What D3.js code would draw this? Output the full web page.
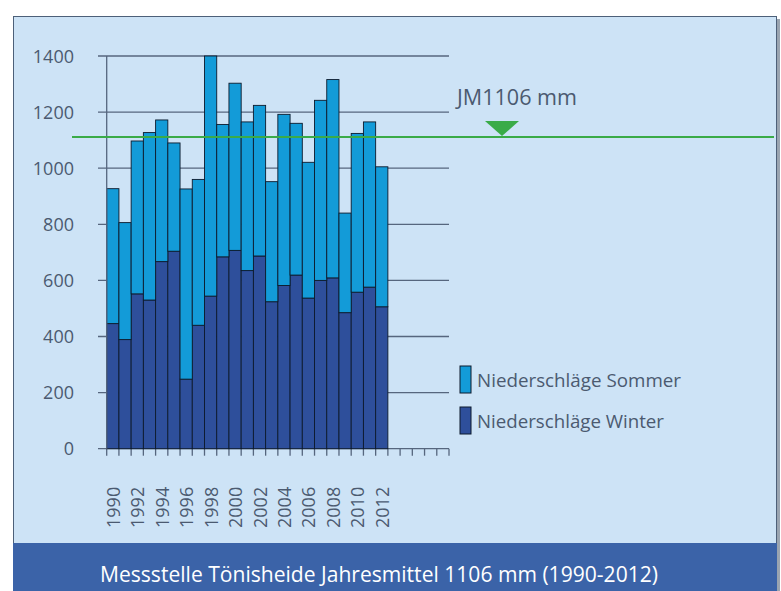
<!DOCTYPE html>
<html>
<head>
<meta charset="utf-8">
<script src="https://cdn.jsdelivr.net/npm/d3@7"></script>
<style>
  body { margin: 0; background: #fff; }
  svg text { font-family: "Open Sans", "Noto Sans", sans-serif; }
</style>
</head>
<body>
<div id="chart"></div>
<script>

var years = d3.range(1990, 2013);
var slotYears = d3.range(1990, 2018); // axis runs on past 2012 with empty slots
var winter = [446, 389, 552, 530, 667, 704, 248, 440, 544, 684, 707, 635, 687, 524, 582, 619, 537, 600, 609, 485, 558, 576, 506];
var summer = [481, 417, 545, 597, 505, 386, 678, 520, 856, 472, 596, 530, 537, 428, 610, 541, 484, 642, 707, 355, 566, 589, 499];
var yTicks = [0, 200, 400, 600, 800, 1000, 1200, 1400];
var yearLabels = d3.range(1990, 2013, 2);
var meanValue = 1106;
var seriesNames = ["Niederschläge Sommer", "Niederschläge Winter"];
var title = "Messstelle Tönisheide Jahresmittel 1106 mm (1990-2012)";

var width = 781, height = 591;
var axisColor = "#56667e", textColor = "#4b5a70";
var color = d3.scaleOrdinal()
  .domain(["winter", "summer"])
  .range(["#2e4f9b", "#139bd8"]);

var svg = d3.select("#chart").append("svg")
  .attr("width", width)
  .attr("height", height);

// panel + shadow
svg.append("rect")
  .attr("x", 16).attr("y", 19)
  .attr("width", 764).attr("height", 580)
  .attr("fill", "#9aa4b0");
svg.append("rect")
  .attr("x", 13.5).attr("y", 16.5)
  .attr("width", 763).attr("height", 580)
  .attr("fill", "#cde3f6")
  .attr("stroke", "#4d6079")
  .attr("stroke-width", 1);

var x = d3.scaleBand()
  .domain(slotYears)
  .range([106.7, 449])
  .padding(0);

var y = d3.scaleLinear()
  .domain([0, 1400])
  .range([448.7, 56]);

// gridlines
svg.append("g")
  .selectAll("line")
  .data(yTicks)
  .enter().append("line")
  .attr("x1", 98).attr("x2", 449)
  .attr("y1", d => y(d)).attr("y2", d => y(d))
  .attr("stroke", axisColor)
  .attr("stroke-width", 1.3);

// y labels
svg.append("g")
  .selectAll("text")
  .data(yTicks)
  .enter().append("text")
  .attr("x", 74)
  .attr("y", d => y(d) + 6.5)
  .attr("text-anchor", "end")
  .attr("fill", textColor)
  .style("font-size", "18px")
  .text(d => d);

// x axis ticks
var xAxis = d3.axisBottom(x)
  .tickSize(7)
  .tickFormat("");
var gx = svg.append("g")
  .attr("transform", "translate(0," + y(0) + ")")
  .call(xAxis);
gx.select(".domain").remove();
gx.selectAll(".tick line")
  .attr("transform", "translate(" + (-x.bandwidth() / 2) + ",0)")
  .attr("stroke", axisColor)
  .attr("stroke-width", 1.3);
gx.append("line")
  .attr("x1", x(2017) + x.bandwidth()).attr("x2", x(2017) + x.bandwidth())
  .attr("y1", 0).attr("y2", 7)
  .attr("stroke", axisColor).attr("stroke-width", 1.3);

// stacked bars
var rows = years.map((yr, i) => ({year: yr, winter: winter[i], summer: summer[i]}));
var stacked = d3.stack().keys(["winter", "summer"])(rows);

svg.append("g")
  .selectAll("g")
  .data(stacked)
  .enter().append("g")
  .attr("fill", d => color(d.key))
  .selectAll("rect")
  .data(d => d)
  .enter().append("rect")
  .attr("x", d => x(d.data.year))
  .attr("y", d => y(d[1]))
  .attr("width", x.bandwidth())
  .attr("height", d => y(d[0]) - y(d[1]))
  .attr("stroke", "#0d1a2c")
  .attr("stroke-width", 0.9);

// y axis line
svg.append("line")
  .attr("x1", 106.7).attr("x2", 106.7)
  .attr("y1", y(1400)).attr("y2", y(0))
  .attr("stroke", axisColor)
  .attr("stroke-width", 1.3);

// year labels
svg.append("g")
  .selectAll("text")
  .data(yearLabels)
  .enter().append("text")
  .attr("transform", d => "translate(" + (x(d) + x.bandwidth() / 2 + 7) + ",528) rotate(-90)")
  .attr("fill", textColor)
  .style("font-size", "18px")
  .text(d => d);

// mean line
var yMean = y(meanValue) - 1.5;
svg.append("line")
  .attr("x1", 72).attr("x2", 774)
  .attr("y1", yMean).attr("y2", yMean)
  .attr("stroke", "#3aab48")
  .attr("stroke-width", 2);
svg.append("path")
  .attr("d", "M485," + (yMean - 16) + "L519," + (yMean - 16) + "L502," + (yMean - 1) + "Z")
  .attr("fill", "#3aab48");
svg.append("text")
  .attr("x", 457).attr("y", 105)
  .attr("fill", textColor)
  .attr("textLength", 120)
  .attr("lengthAdjust", "spacingAndGlyphs")
  .style("font-size", "22px")
  .text("JM" + meanValue + " mm");

// legend
var legend = svg.append("g")
  .selectAll("g")
  .data(seriesNames)
  .enter().append("g")
  .attr("transform", (d, i) => "translate(460," + (366 + i * 41) + ")");
legend.append("rect")
  .attr("width", 11).attr("height", 27)
  .attr("fill", (d, i) => i === 0 ? color("summer") : color("winter"))
  .attr("stroke", "#0d1a2c")
  .attr("stroke-width", 1);
legend.append("text")
  .attr("x", 17).attr("y", 21)
  .attr("fill", textColor)
  .attr("textLength", (d, i) => i === 0 ? 204 : 187)
  .attr("lengthAdjust", "spacingAndGlyphs")
  .style("font-size", "18px")
  .text(d => d);

// bottom banner
svg.append("rect")
  .attr("x", 13).attr("y", 543)
  .attr("width", 764).attr("height", 48)
  .attr("fill", "#3b63a8");
svg.append("text")
  .attr("x", 100).attr("y", 582)
  .attr("fill", "#ffffff")
  .attr("textLength", 558)
  .attr("lengthAdjust", "spacingAndGlyphs")
  .style("font-size", "21px")
  .text(title);

</script>
</body>
</html>
